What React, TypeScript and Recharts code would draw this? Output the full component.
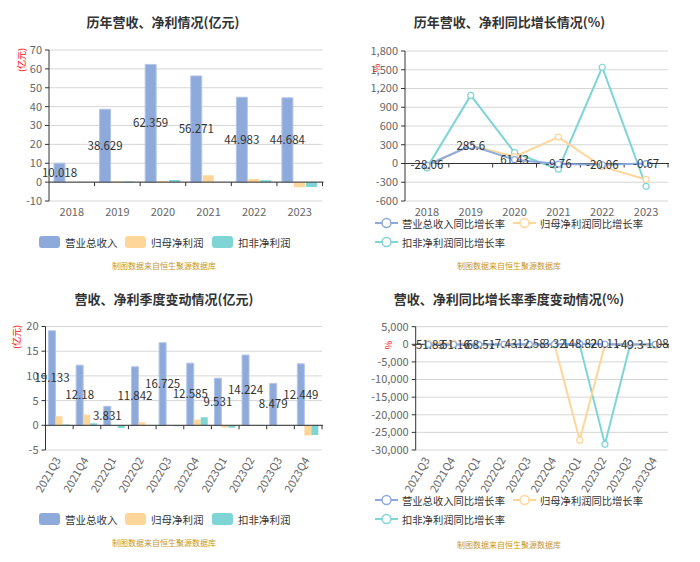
import React from 'react';
import {
  BarChart, Bar, LineChart, Line, XAxis, YAxis, CartesianGrid, ReferenceLine, LabelList,
} from 'recharts';

const FONT = "'Noto Sans CJK SC', 'Noto Sans', sans-serif";

const BLUE = '#8eaadb';
const ORANGE = '#ffd699';
const TEAL = '#7fd4d6';

// 年度
const years = ['2018', '2019', '2020', '2021', '2022', '2023'];
const annualRevenue = [10.018, 38.629, 62.359, 56.271, 44.983, 44.684];
const annualNetProfit = [0.03, 0.4, 0.6, 3.6, 1.6, -2.7];
const annualDeducted = [0.02, 0.35, 1.1, -0.05, 1.0, -2.6];

const revenueGrowth = [-28.06, 285.6, 61.43, -9.76, -20.06, -0.67];
const netProfitGrowth = [-40, 290, 110, 423, -50, -255];
const deductedGrowth = [-70, 1090, 175, -90, 1540, -365];

// 季度
const quarters = ['2021Q3', '2021Q4', '2022Q1', '2022Q2', '2022Q3', '2022Q4', '2023Q1', '2023Q2', '2023Q3', '2023Q4'];
const qRevenue = [19.133, 12.18, 3.831, 11.842, 16.725, 12.585, 9.531, 14.224, 8.479, 12.449];
const qNetProfit = [1.83, 2.2, 0.03, 0.6, 0.08, 1.1, -0.45, -0.05, 0.05, -2.05];
const qDeducted = [0.15, 0.4, -0.55, 0.05, -0.2, 1.65, -0.5, -0.1, 0.02, -1.95];

const qRevenueGrowth = [-51.83, -51.16, -68.51, -7.43, -12.58, 3.32, 148.82, 20.11, -49.3, -1.08];
const qNetProfitGrowth = [350, 250, -120, -60, -100, -40, -27200, -150, -90, -280];
const qDeductedGrowth = [-150, 50, -200, -120, -300, 150, -150, -28400, -100, -320];

const barLegend = ['营业总收入', '归母净利润', '扣非净利润'];
const lineLegend = ['营业总收入同比增长率', '归母净利润同比增长率', '扣非净利润同比增长率'];
const source = '制图数据来自恒生聚源数据库';

const annualRows = years.map((name, i) => ({
  name, a: annualRevenue[i], b: annualNetProfit[i], c: annualDeducted[i],
}));
const annualGrowthRows = years.map((name, i) => ({
  name, a: revenueGrowth[i], b: netProfitGrowth[i], c: deductedGrowth[i],
}));
const quarterRows = quarters.map((name, i) => ({
  name, a: qRevenue[i], b: qNetProfit[i], c: qDeducted[i],
}));
const quarterGrowthRows = quarters.map((name, i) => ({
  name, a: qRevenueGrowth[i], b: qNetProfitGrowth[i], c: qDeductedGrowth[i],
}));

const fmt = (v: number) => v.toLocaleString('en-US');

const zeroShape = (n: number) => (p: any) => {
  const { x1, y1, x2 } = p;
  if (x1 == null) return <g />;
  const step = (x2 - x1) / n;
  const marks = [];
  for (let i = 1; i <= n; i++) {
    const x = x1 + step * i;
    marks.push(<line key={i} x1={x} y1={y1} x2={x} y2={y1 + 4} stroke="#333" />);
  }
  return (
    <g>
      <line x1={x1} y1={y1} x2={x2 + 1} y2={y1} stroke="#333" />
      {marks}
    </g>
  );
};

const flatTick = (p: any) => (
  <text x={p.x} y={p.y + 15} textAnchor="middle" fill="#666" fontSize={11} fontFamily={FONT}>
    {p.payload.value}
  </text>
);

const slantTick = (p: any) => {
  const x = p.x + 2;
  const y = p.y + 10;
  return (
    <text x={x} y={y} textAnchor="end" fill="#666" fontSize={11} fontFamily={FONT}
      transform={`rotate(-60, ${x}, ${y})`}>
      {p.payload.value}
    </text>
  );
};

const pointLabel = (p: any) => (
  <text x={p.x} y={p.y} dy="0.35em" textAnchor="middle" fill="#333" fontSize={11.5} fontFamily={FONT}>
    {p.value}
  </text>
);

const Title = ({ text, cx, y }: { text: string; cx: number; y: number }) => (
  <div style={{
    position: 'absolute', left: cx - 150, width: 300, top: y - 10, textAlign: 'center',
    fontSize: 13, fontWeight: 'bold', color: '#333', fontFamily: FONT, lineHeight: '20px',
  }}>{text}</div>
);

const Unit = ({ text, x, y }: { text: string; x: number; y: number }) => (
  <div style={{
    position: 'absolute', left: x - 20, top: y - 6, width: 40, textAlign: 'center',
    fontSize: 9, color: '#f00', fontFamily: FONT, lineHeight: '12px', transform: 'rotate(-90deg)',
  }}>{text}</div>
);

const Source = ({ cx, y }: { cx: number; y: number }) => (
  <div style={{
    position: 'absolute', left: cx - 80, width: 160, top: y - 6, textAlign: 'center',
    fontSize: 8, color: '#c8961c', fontFamily: FONT, lineHeight: '12px',
  }}>{source}</div>
);

const BarLegend = ({ y }: { y: number }) => {
  const xs = [39, 125, 212];
  const colors = [BLUE, ORANGE, TEAL];
  return (
    <>
      {barLegend.map((t, i) => (
        <div key={t} style={{ position: 'absolute', left: xs[i], top: y - 7, height: 14, display: 'flex', alignItems: 'center' }}>
          <div style={{ width: 21, height: 12, borderRadius: 3, background: colors[i] }} />
          <span style={{ marginLeft: 5, fontSize: 10.5, color: '#333', fontFamily: FONT }}>{t}</span>
        </div>
      ))}
    </>
  );
};

const LineLegend = ({ y1, y2 }: { y1: number; y2: number }) => {
  const pos = [[25, y1], [163, y1], [25, y2]];
  const colors = [BLUE, ORANGE, TEAL];
  return (
    <>
      {lineLegend.map((t, i) => (
        <div key={t} style={{ position: 'absolute', left: pos[i][0], top: pos[i][1] - 8, height: 16, display: 'flex', alignItems: 'center' }}>
          <svg width={23} height={14}>
            <line x1={0} y1={7} x2={23} y2={7} stroke={colors[i]} strokeWidth={2} />
            <circle cx={11.5} cy={7} r={4.5} fill="#fff" stroke={colors[i]} strokeWidth={1.5} />
          </svg>
          <span style={{ marginLeft: 4, fontSize: 10.3, color: '#333', fontFamily: FONT }}>{t}</span>
        </div>
      ))}
    </>
  );
};

const yTick = { fill: '#666', fontSize: 11, fontFamily: FONT };

const BarPanel = ({ rows, height, top, bottom, left, right, domain, ticks, size, gap, slant }: any) => (
  <BarChart width={350} height={height} data={rows}
    margin={{ top, right: 350 - right, bottom: height - bottom - (slant ? 50 : 30), left: 0 }}
    barSize={size} barGap={gap}>
    <CartesianGrid vertical={false} stroke="#d6d6d6" />
    <XAxis dataKey="name" axisLine={false} tickLine={false} tickSize={0} tickMargin={0}
      height={slant ? 50 : 30} interval={0} tick={slant ? slantTick : flatTick} />
    <YAxis width={left} domain={domain} ticks={ticks} allowDataOverflow interval={0}
      axisLine={{ stroke: '#333' }} tickLine={{ stroke: '#333' }} tickSize={4} tickMargin={3} tick={yTick} />
    <Bar dataKey="a" fill={BLUE} stroke="#b3c6e8" strokeWidth={1} isAnimationActive={false}>
      <LabelList dataKey="a" position="center" fill="#333" fontSize={11.5} fontFamily={FONT} />
    </Bar>
    <Bar dataKey="b" fill={ORANGE} isAnimationActive={false} />
    <Bar dataKey="c" fill={TEAL} isAnimationActive={false} />
    <ReferenceLine y={0} shape={zeroShape(rows.length)} />
  </BarChart>
);

const LinePanel = ({ rows, height, top, bottom, left, right, domain, ticks, slant }: any) => (
  <LineChart width={350} height={height} data={rows}
    margin={{ top, right: 350 - right, bottom: height - bottom - (slant ? 50 : 30), left: 0 }}>
    <CartesianGrid vertical={false} stroke="#d6d6d6" />
    <XAxis dataKey="name" scale="band" axisLine={false} tickLine={false} tickSize={0} tickMargin={0}
      height={slant ? 50 : 30} interval={0} tick={slant ? slantTick : flatTick} />
    <YAxis width={left} domain={domain} ticks={ticks} allowDataOverflow interval={0} tickFormatter={fmt}
      axisLine={{ stroke: '#333' }} tickLine={{ stroke: '#333' }} tickSize={4} tickMargin={3} tick={yTick} />
    <ReferenceLine y={0} shape={zeroShape(rows.length)} />
    <Line dataKey="c" stroke={TEAL} strokeWidth={2} isAnimationActive={false}
      dot={{ r: 3, fill: '#fff', stroke: TEAL, strokeWidth: 1.2 }} />
    <Line dataKey="b" stroke={ORANGE} strokeWidth={2} isAnimationActive={false}
      dot={{ r: 3, fill: '#fff', stroke: ORANGE, strokeWidth: 1.2 }} />
    <Line dataKey="a" stroke={BLUE} strokeWidth={2} isAnimationActive={false}
      dot={{ r: 3, fill: '#fff', stroke: BLUE, strokeWidth: 1.2 }}>
      <LabelList dataKey="a" content={pointLabel} />
    </Line>
  </LineChart>
);

const Panel = ({ x, y, h, children }: any) => (
  <div style={{ position: 'absolute', left: x, top: y, width: 350, height: h }}>{children}</div>
);

export default function App() {
  return (
    <div style={{ position: 'absolute', left: 0, top: 0, width: 700, height: 562, background: '#fff', overflow: 'hidden' }}>
      <Panel x={0} y={0} h={281}>
        <BarPanel rows={annualRows} height={281} top={50} bottom={201} left={49} right={322.5}
          domain={[-10, 70]} ticks={[-10, 0, 10, 20, 30, 40, 50, 60, 70]} size={11} gap={1} />
        <Title text="历年营收、净利情况(亿元)" cx={163} y={22} />
        <Unit text="(亿元)" x={22} y={60} />
        <BarLegend y={242} />
        <Source cx={164} y={266} />
      </Panel>
      <Panel x={350} y={0} h={281}>
        <LinePanel rows={annualGrowthRows} height={281} top={51} bottom={201} left={55} right={318}
          domain={[-600, 1800]} ticks={[-600, -300, 0, 300, 600, 900, 1200, 1500, 1800]} />
        <Title text="历年营收、净利同比增长情况(%)" cx={159.5} y={22} />
        <Unit text="%" x={27} y={68} />
        <LineLegend y1={223} y2={242} />
        <Source cx={159} y={266} />
      </Panel>
      <Panel x={0} y={280} h={282}>
        <BarPanel rows={quarterRows} height={282} top={46.5} bottom={170} left={45.5} right={322}
          domain={[-5, 20]} ticks={[-5, 0, 5, 10, 15, 20]} size={7} gap={0} slant />
        <Title text="营收、净利季度变动情况(亿元)" cx={164} y={19} />
        <Unit text="(亿元)" x={17} y={57} />
        <BarLegend y={239} />
        <Source cx={164} y={263} />
      </Panel>
      <Panel x={350} y={280} h={282}>
        <LinePanel rows={quarterGrowthRows} height={282} top={46.7} bottom={170} left={65.7} right={318}
          domain={[-30000, 5000]} ticks={[-30000, -25000, -20000, -15000, -10000, -5000, 0, 5000]} slant />
        <Title text="营收、净利同比增长率季度变动情况(%)" cx={159} y={19} />
        <Unit text="%" x={39} y={65} />
        <LineLegend y1={220} y2={239} />
        <Source cx={159} y={265} />
      </Panel>
    </div>
  );
}
